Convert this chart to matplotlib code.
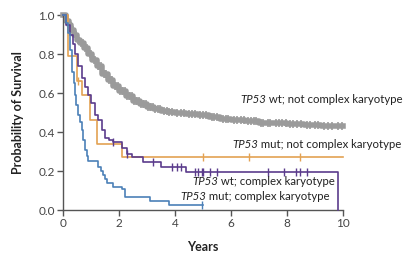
import numpy as np
import matplotlib
matplotlib.use("Agg")
import matplotlib.pyplot as plt

plt.rcParams['font.family'] = ['Lato', 'DejaVu Sans']

# Kaplan-Meier step curves: (years, survival after the step)
wt_notcx_t = [0, 0.1, 0.2, 0.3, 0.4, 0.5, 0.6, 0.75, 0.9, 1.05, 1.2, 1.4, 1.6, 1.8, 2.0, 2.25,
              2.5, 2.75, 3.0, 3.25, 3.5, 3.75, 4.0, 4.4, 4.8, 5.2, 5.6, 6.0, 6.5, 7.0, 7.5,
              8.0, 8.6, 9.2, 9.7]
wt_notcx_s = [1.0, 0.97, 0.95, 0.925, 0.90, 0.875, 0.855, 0.83, 0.80, 0.77, 0.74, 0.70, 0.665,
              0.635, 0.61, 0.585, 0.56, 0.545, 0.53, 0.52, 0.51, 0.505, 0.50, 0.495, 0.487,
              0.478, 0.47, 0.462, 0.455, 0.448, 0.445, 0.44, 0.437, 0.434, 0.43]
wt_notcx_cens = [0.15, 0.25, 0.35, 0.45, 0.55, 0.65, 0.7, 0.8, 0.85, 0.95, 1.0, 1.1, 1.15, 1.25,
                 1.3, 1.35, 1.45, 1.5, 1.55, 1.65, 1.7, 1.75, 1.85, 1.9, 1.95, 2.05, 2.1, 2.15,
                 2.2, 2.3, 2.35, 2.4, 2.45, 2.55, 2.6, 2.65, 2.7, 2.8, 2.85, 2.9, 2.95, 3.05,
                 3.1, 3.15, 3.2, 3.3, 3.4, 3.45, 3.6, 3.7, 3.8, 3.9, 4.05, 4.2, 4.3, 4.5, 4.6,
                 4.7, 4.9, 5.0, 5.1, 5.3, 5.4, 5.5, 5.7, 5.8, 5.9, 6.1, 6.2, 6.35, 6.45, 6.6,
                 6.7, 6.8, 6.9, 7.05, 7.15, 7.3, 7.4, 7.6, 7.7, 7.8, 7.95, 8.1, 8.2, 8.35, 8.5,
                 8.7, 8.8, 9.0, 9.1, 9.3, 9.45, 9.6, 9.8, 9.95]

mut_notcx_t = [0, 0.17, 0.49, 0.67, 0.96, 1.2, 2.1]
mut_notcx_s = [1.0, 0.79, 0.66, 0.59, 0.46, 0.34, 0.27]
mut_notcx_cens = [0.55, 5.0, 6.65, 8.45]

wt_cx_t = [0, 0.1, 0.25, 0.35, 0.43, 0.55, 0.68, 0.8, 0.9, 1.0, 1.15, 1.25, 1.4, 1.5, 1.65,
           1.8, 2.1, 2.3, 2.46, 2.86, 3.5, 4.4, 9.8]
wt_cx_s = [1.0, 0.95, 0.9, 0.85, 0.8, 0.74, 0.68, 0.63, 0.59, 0.55, 0.49, 0.46, 0.41, 0.37,
           0.36, 0.35, 0.32, 0.29, 0.27, 0.245, 0.22, 0.198, 0.0]
wt_cx_cens = [1.8, 2.3, 3.2, 3.9, 4.07, 4.2, 4.7, 4.8, 4.96, 5.0, 5.25, 5.5, 7.3, 7.9, 8.3,
              8.45, 8.7]

mut_cx_t = [0, 0.1, 0.18, 0.25, 0.32, 0.38, 0.43, 0.48, 0.53, 0.6, 0.68, 0.73, 0.78, 0.84,
            0.9, 1.25, 1.35, 1.43, 1.5, 1.57, 1.8, 2.1, 2.2, 3.1, 3.8]
mut_cx_s = [1.0, 0.96, 0.91, 0.82, 0.71, 0.65, 0.59, 0.54, 0.49, 0.45, 0.41, 0.36, 0.31, 0.28,
            0.25, 0.22, 0.2, 0.18, 0.16, 0.14, 0.12, 0.107, 0.067, 0.048, 0.026]
mut_cx_end = 5.0
mut_cx_cens = [4.95]

c_gray = '#9b9b9b'
c_orange = '#e3a253'
c_purple = '#5b3c8c'
c_blue = '#4c80b8'


def km(ax, t, s, end, cens, color, lw, ms, mew, z):
    t = list(t) + [end]
    s = list(s) + [s[-1]]
    ax.step(t, s, where='post', color=color, lw=lw, zorder=z, clip_on=False)
    t = np.array(t)
    s = np.array(s)
    idx = np.searchsorted(t, cens, side='right') - 1
    ax.plot(cens, s[idx], ls='none', marker='|', ms=ms, mew=mew, color=color, zorder=z,
            clip_on=False)


fig = plt.figure(figsize=(4.12, 2.62), dpi=100)
ax = fig.add_axes([0.153, 0.198, 0.680, 0.744])

km(ax, wt_notcx_t, wt_notcx_s, 10.0, wt_notcx_cens, c_gray, 4.0, 6, 1.2, 2)
km(ax, mut_notcx_t, mut_notcx_s, 10.0, mut_notcx_cens, c_orange, 1.2, 6, 1.0, 3)
km(ax, wt_cx_t, wt_cx_s, 9.8, wt_cx_cens, c_purple, 1.2, 6, 1.0, 4)
km(ax, mut_cx_t, mut_cx_s, mut_cx_end, mut_cx_cens, c_blue, 1.2, 6, 1.0, 5)

ax.set_xlim(0, 10)
ax.set_ylim(0, 1.0)
ax.set_xticks([0, 2, 4, 6, 8, 10])
ax.set_yticks([0.0, 0.2, 0.4, 0.6, 0.8, 1.0])
ax.set_yticklabels(['0.0', '0.2', '0.4', '0.6', '0.8', '1.0'])
for sp in ['top', 'right']:
    ax.spines[sp].set_visible(False)
for sp in ['left', 'bottom']:
    ax.spines[sp].set_color('#555555')
    ax.spines[sp].set_linewidth(1.0)
ax.tick_params(direction='out', length=4, width=1, color='#555555', labelsize=8.5,
               labelcolor='#444444', pad=2)

ax.set_xlabel('Years', fontsize=9, fontweight='bold', color='#222222', labelpad=8)
ax.set_ylabel('Probability of Survival', fontsize=9, fontweight='bold', color='#222222',
              labelpad=10)

labels = [
    (6.32, 0.565, 'wt; not complex karyotype'),
    (6.04, 0.335, 'mut; not complex karyotype'),
    (4.60, 0.145, 'wt; complex karyotype'),
    (4.18, 0.072, 'mut; complex karyotype'),
]
for x, y, rest in labels:
    t1 = ax.text(x, y, 'TP53', fontsize=8.2, style='italic', color='#222222',
                 va='center', ha='left', zorder=6)
    ax.annotate(' ' + rest, xy=(1, 0), xycoords=t1, fontsize=8.2, color='#222222',
                va='bottom', ha='left', zorder=6, annotation_clip=False)

fig.savefig('out.png', dpi=100)
